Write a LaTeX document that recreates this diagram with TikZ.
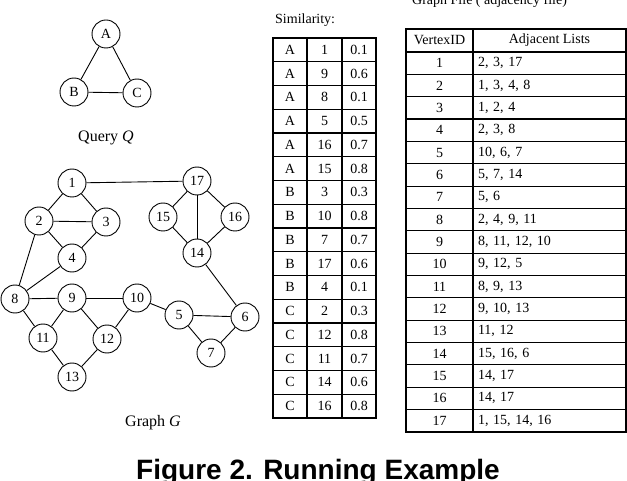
\documentclass[tikz,border=0pt]{standalone}
\usepackage{fontspec}
\setmainfont{Liberation Serif}
\newfontfamily\rotfont{Liberation Sans}
\usetikzlibrary{positioning}
\tikzset{
  nodo/.style={draw, circle, line width=0.9pt, minimum size=28pt, inner sep=0pt, font=\fontsize{14}{16}\selectfont},
  arista/.style={line width=0.9pt},
  rot/.style={inner sep=0pt, font=\fontsize{16}{18}\selectfont},
  tit/.style={inner sep=0pt, anchor=base west, font=\fontsize{14}{16}\selectfont},
  celda/.style={draw, line width=1.1pt, minimum width=#1, minimum height=23.75pt, inner sep=0pt, font=\fontsize{14}{16}\selectfont},
  fila/.style={draw, line width=1.1pt, minimum width=#1, minimum height=22.35pt, inner sep=0pt, font=\fontsize{14}{16}\selectfont},
  lista/.style={fila=153pt, text width=143pt, inner xsep=5pt, align=left},
}

\begin{document}
\begin{tikzpicture}[x=1pt, y=-1pt]
  \path[fill=white, use as bounding box] (0,0) rectangle (627,481);
  % query Q
  \node[nodo] (qa) at (106,34) {A};
  \node[nodo] (qb) at (74,92) {B};
  \node[nodo] (qc) at (137,93) {C};
  \draw[arista] (qa) -- (qb) -- (qc) -- (qa);
  \node[rot] (qq) at (106,138) {Query \textit{Q}};
  % graph G
  \node[nodo] (g1) at (72,183) {1};
  \node[nodo] (g17) at (197,181) {17};
  \node[nodo] (g2) at (39,221) {2};
  \node[nodo] (g3) at (106,222) {3};
  \node[nodo] (g15) at (163,217) {15};
  \node[nodo] (g16) at (235,217) {16};
  \node[nodo] (g4) at (72,258) {4};
  \node[nodo] (g14) at (197,253) {14};
  \node[nodo] (g8) at (15,299) {8};
  \node[nodo] (g9) at (72,298) {9};
  \node[nodo] (g10) at (137,298) {10};
  \node[nodo] (g5) at (179,315) {5};
  \node[nodo] (g6) at (245,317) {6};
  \node[nodo] (g11) at (43,338) {11};
  \node[nodo] (g12) at (107,339) {12};
  \node[nodo] (g7) at (211,353) {7};
  \node[nodo] (g13) at (72,377) {13};
  \foreach \a/\b in {1/17,1/2,1/3,2/3,2/4,3/4,2/8,4/8,8/9,8/11,9/10,9/11,9/12,10/12,10/5,
                     11/13,12/13,5/6,5/7,6/7,6/14,14/15,14/16,14/17,17/15,17/16}
    \draw[arista] (g\a) -- (g\b);
  \node[rot] (gg) at (153,423) {Graph \textit{G}};
  % similarity table
  \node[tit] (sim) at (275,24) {Similarity:};
  \foreach \q/\v/\s [count=\i] in {A/1/0.1, A/9/0.6, A/8/0.1, A/5/0.5, A/16/0.7, A/15/0.8,
      B/3/0.3, B/10/0.8, B/7/0.7, B/17/0.6, B/4/0.1,
      C/2/0.3, C/12/0.8, C/11/0.7, C/14/0.6, C/16/0.8}{
    \pgfmathsetmacro\yy{38+23.75*(\i-0.5)}
    \node[celda=34pt] (sq\i) at (290,\yy) {\q};
    \node[celda=35pt] (sv\i) at (324.5,\yy) {\v};
    \node[celda=34pt] (ss\i) at (359,\yy) {\s};
  }
  % adjacency file
  \node[tit] (gf) at (412,4.5) {Graph File ( adjacency file)};
  \node[fila=67pt, minimum height=23pt] (hv) at (439.5,40.5) {VertexID};
  \node[fila=153pt, minimum height=23pt] (ha) at (549.5,40.5) {Adjacent Lists};
  \foreach \l [count=\i] in {{2, 3, 17}, {1, 3, 4, 8}, {1, 2, 4}, {2, 3, 8}, {10, 6, 7},
      {5, 7, 14}, {5, 6}, {2, 4, 9, 11}, {8, 11, 12, 10}, {9, 12, 5}, {8, 9, 13},
      {9, 10, 13}, {11, 12}, {15, 16, 6}, {14, 17}, {14, 17}, {1, 15, 14, 16}}{
    \pgfmathsetmacro\yy{52+22.35*(\i-0.5)}
    \node[fila=67pt] (av\i) at (439.5,\yy) {\i};
    \node[lista] (al\i) at (549.5,\yy) {\l};
  }
  \node[inner sep=0pt, anchor=base west, font=\rotfont\bfseries\fontsize{28}{30}\selectfont]
    (fig) at (136,479) {Figure 2. Running Example};
\end{tikzpicture}
\end{document}
